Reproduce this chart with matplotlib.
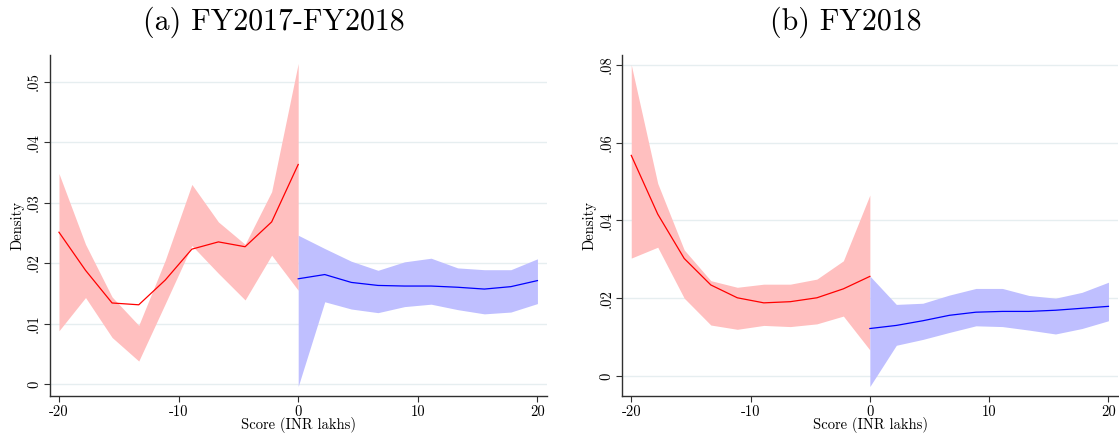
import numpy as np
import matplotlib
matplotlib.use("Agg")
import matplotlib.pyplot as plt

plt.rcParams["font.family"] = ["cmr10", "DejaVu Serif"]
plt.rcParams["axes.formatter.use_mathtext"] = True

# Evaluation grid (score bins) on each side of the cutoff
x_left = [-20.0, -17.78, -15.56, -13.33, -11.11, -8.89, -6.67, -4.44, -2.22, 0.0]
x_right = [0.0, 2.22, 4.44, 6.67, 8.89, 11.11, 13.33, 15.56, 17.78, 20.0]

# (a) FY2017-FY2018
a_left_est = [0.0251, 0.0188, 0.0134, 0.0131, 0.0172, 0.0223, 0.0235, 0.0227, 0.0268, 0.0363]
a_left_hi = [0.0348, 0.0231, 0.0144, 0.0097, 0.0205, 0.0330, 0.0268, 0.0231, 0.0318, 0.0530]
a_left_lo = [0.0088, 0.0143, 0.0077, 0.0038, 0.0133, 0.0229, 0.0183, 0.0139, 0.0213, 0.0155]
a_right_est = [0.0174, 0.0181, 0.0168, 0.0163, 0.0162, 0.0162, 0.0160, 0.0157, 0.0161, 0.0171]
a_right_hi = [0.0246, 0.0224, 0.0203, 0.0188, 0.0202, 0.0208, 0.0192, 0.0189, 0.0189, 0.0207]
a_right_lo = [-0.0004, 0.0136, 0.0124, 0.0118, 0.0128, 0.0132, 0.0123, 0.0116, 0.0119, 0.0133]

# (b) FY2018
b_left_est = [0.0567, 0.0416, 0.0302, 0.0234, 0.0201, 0.0188, 0.0191, 0.0201, 0.0224, 0.0256]
b_left_hi = [0.0800, 0.0495, 0.0324, 0.0245, 0.0228, 0.0236, 0.0236, 0.0249, 0.0296, 0.0465]
b_left_lo = [0.0303, 0.0331, 0.0200, 0.0131, 0.0120, 0.0130, 0.0127, 0.0134, 0.0154, 0.0067]
b_right_est = [0.0122, 0.0130, 0.0142, 0.0156, 0.0164, 0.0166, 0.0166, 0.0169, 0.0174, 0.0179]
b_right_hi = [0.0257, 0.0184, 0.0187, 0.0208, 0.0225, 0.0225, 0.0207, 0.0200, 0.0215, 0.0241]
b_right_lo = [-0.0027, 0.0079, 0.0094, 0.0112, 0.0129, 0.0127, 0.0118, 0.0108, 0.0122, 0.0142]

x_ticks = [-20, -10, 0, 10, 20]
x_ticklabels = ["-20", "-10", "0", "10", "20"]
a_yticks = [0, 0.01, 0.02, 0.03, 0.04, 0.05]
a_yticklabels = ["0", ".01", ".02", ".03", ".04", ".05"]
b_yticks = [0, 0.02, 0.04, 0.06, 0.08]
b_yticklabels = ["0", ".02", ".04", ".06", ".08"]

W, H = 1119, 436
fig = plt.figure(figsize=(W / 100, H / 100), dpi=100)

RED_FILL = "#ffbfbf"
BLUE_FILL = "#bfbfff"
GRID = "#e6eef0"
SPINE = "#303030"


def panel(rect, left, right, yticks, yticklabels, ylim):
    ax = fig.add_axes(rect)
    xl, el, hl, ll = left
    xr, er, hr, lr = right
    ax.fill_between(xl, ll, hl, color=RED_FILL, linewidth=0, zorder=2)
    ax.fill_between(xr, lr, hr, color=BLUE_FILL, linewidth=0, zorder=2)
    ax.plot(xl, el, color="#ff0000", linewidth=0.9, zorder=3)
    ax.plot(xr, er, color="#0000ff", linewidth=0.9, zorder=3)
    ax.set_xlim(-20.75, 20.8)
    ax.set_ylim(*ylim)
    ax.set_xticks(x_ticks)
    ax.set_xticklabels(x_ticklabels, fontsize=10.5)
    ax.set_yticks(yticks)
    ax.set_yticklabels(yticklabels, fontsize=10.5, rotation=90, va="center")
    ax.yaxis.grid(True, color=GRID, linewidth=1.0, zorder=0)
    ax.set_axisbelow(True)
    for s in ("top", "right"):
        ax.spines[s].set_visible(False)
    for s in ("left", "bottom"):
        ax.spines[s].set_color(SPINE)
        ax.spines[s].set_linewidth(1.0)
    ax.tick_params(axis="both", direction="out", length=4.5, width=0.8,
                   color=SPINE, pad=2)
    ax.set_xlabel("Score (INR lakhs)", fontsize=10.5, labelpad=-1.5)
    ax.set_ylabel("Density", fontsize=10.5, labelpad=2)
    return ax


bottom = (H - 396) / H
top = (H - 55) / H
panel([50 / W, bottom, (547 - 50) / W, top - bottom],
      (x_left, a_left_est, a_left_hi, a_left_lo),
      (x_right, a_right_est, a_right_hi, a_right_lo),
      a_yticks, a_yticklabels, (-0.00198, 0.0544))
panel([622.3 / W, bottom, (1118 - 622.3) / W, top - bottom],
      (x_left, b_left_est, b_left_hi, b_left_lo),
      (x_right, b_right_est, b_right_hi, b_right_lo),
      b_yticks, b_yticklabels, (-0.00514, 0.0825))

fig.text(274 / W, 1 - 30 / H, "(a) FY2017-FY2018", fontsize=21.5,
         ha="center", va="baseline")
fig.text(846 / W, 1 - 30 / H, "(b) FY2018", fontsize=21.5,
         ha="center", va="baseline")

fig.savefig("out.png", dpi=100)
